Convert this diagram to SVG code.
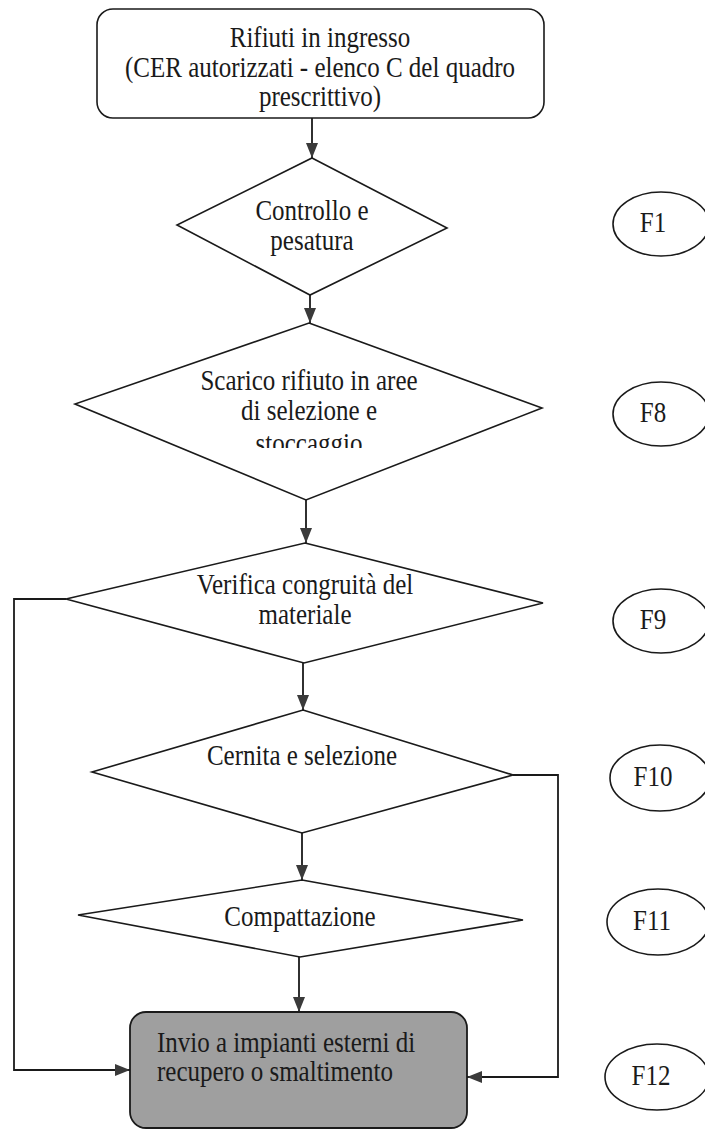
<svg xmlns="http://www.w3.org/2000/svg" width="705" height="1133" viewBox="0 0 705 1133">
  <style>
    .shape { fill: #ffffff; stroke: #1a1a1a; stroke-width: 1.6; }
    .grey { fill: #9f9f9f; stroke: #1a1a1a; stroke-width: 1.8; }
    .t { font-family: "Liberation Serif", "Times New Roman", serif; font-size: 25px; fill: #1a1a1a; text-anchor: middle; }
    .tl { font-family: "Liberation Serif", "Times New Roman", serif; font-size: 25px; fill: #1a1a1a; text-anchor: start; }
    .conn { fill: none; stroke: #1a1a1a; stroke-width: 1.8; }
  </style>
  <defs>
    <marker id="arrow" markerUnits="userSpaceOnUse" markerWidth="16" markerHeight="14" refX="15" refY="7" orient="auto">
      <path d="M0,1 L15,7 L0,13 z" fill="#3a3a3a"/>
    </marker>
    <clipPath id="clipScarico">
      <rect x="0" y="0" width="705" height="448"/>
    </clipPath>
  </defs>
  <rect width="705" height="1133" fill="#ffffff"/>

  <g id="connectors">
    <line class="conn" x1="312" y1="118" x2="312" y2="158" marker-end="url(#arrow)"/>
    <line class="conn" x1="310" y1="295" x2="310" y2="323" marker-end="url(#arrow)"/>
    <line class="conn" x1="306" y1="500" x2="306" y2="543" marker-end="url(#arrow)"/>
    <line class="conn" x1="303" y1="663" x2="303" y2="710" marker-end="url(#arrow)"/>
    <line class="conn" x1="302" y1="833" x2="302" y2="880" marker-end="url(#arrow)"/>
    <line class="conn" x1="299" y1="957" x2="299" y2="1012" marker-end="url(#arrow)"/>
    <polyline class="conn" points="66,599 14,599 14,1070 130,1070" marker-end="url(#arrow)"/>
    <polyline class="conn" points="513,775 558,775 558,1077 467,1077" marker-end="url(#arrow)"/>
  </g>

  <g id="node-ingresso">
    <rect class="shape" x="97" y="9" width="447" height="109" rx="16"/>
    <text class="t" transform="translate(320,47) scale(1,1.15)">Rifiuti in ingresso</text>
    <text class="t" transform="translate(320,77) scale(1,1.15)">(CER autorizzati - elenco C del quadro</text>
    <text class="t" transform="translate(320,106) scale(1,1.15)">prescrittivo)</text>
  </g>

  <g id="node-controllo">
    <polygon class="shape" points="312,158 447,228 310,295 177,225"/>
    <text class="t" transform="translate(312,220) scale(1,1.15)">Controllo e</text>
    <text class="t" transform="translate(312,250) scale(1,1.15)">pesatura</text>
  </g>

  <g id="node-scarico">
    <polygon class="shape" points="309,323 542,408 306,500 75,404"/>
    <text class="t" transform="translate(309,390) scale(1,1.15)">Scarico rifiuto in aree</text>
    <text class="t" transform="translate(309,420) scale(1,1.15)">di selezione e</text>
    <g clip-path="url(#clipScarico)">
      <text class="t" transform="translate(309,453) scale(1,1.15)">stoccaggio</text>
    </g>
  </g>

  <g id="node-verifica">
    <polygon class="shape" points="305,543 543,603 304,663 66,599"/>
    <text class="t" transform="translate(305,594) scale(1,1.15)">Verifica congruità del</text>
    <text class="t" transform="translate(305,624) scale(1,1.15)">materiale</text>
  </g>

  <g id="node-cernita">
    <polygon class="shape" points="303,710 513,775 302,833 92,772"/>
    <text class="t" transform="translate(302,765) scale(1,1.15)">Cernita e selezione</text>
  </g>

  <g id="node-compattazione">
    <polygon class="shape" points="302,880 523,920 300,957 78,915"/>
    <text class="t" transform="translate(300,926) scale(1,1.15)">Compattazione</text>
  </g>

  <g id="node-invio">
    <rect class="grey" x="130" y="1012" width="337" height="116" rx="16"/>
    <text class="tl" transform="translate(157,1052) scale(1,1.15)">Invio a impianti esterni di</text>
    <text class="tl" transform="translate(157,1081) scale(1,1.15)">recupero o smaltimento</text>
  </g>

  <g id="node-F1">
    <ellipse class="shape" cx="661" cy="224" rx="48" ry="32"/>
    <text class="t" transform="translate(653,232) scale(1,1.15)">F1</text>
  </g>
  <g id="node-F8">
    <ellipse class="shape" cx="661" cy="414" rx="48" ry="32"/>
    <text class="t" transform="translate(653,422) scale(1,1.15)">F8</text>
  </g>
  <g id="node-F9">
    <ellipse class="shape" cx="661" cy="621" rx="48" ry="32"/>
    <text class="t" transform="translate(653,629) scale(1,1.15)">F9</text>
  </g>
  <g id="node-F10">
    <ellipse class="shape" cx="660" cy="778" rx="50" ry="33"/>
    <text class="t" transform="translate(653,786) scale(1,1.15)">F10</text>
  </g>
  <g id="node-F11">
    <ellipse class="shape" cx="658" cy="922" rx="51" ry="33"/>
    <text class="t" transform="translate(652,930) scale(1,1.15)">F11</text>
  </g>
  <g id="node-F12">
    <ellipse class="shape" cx="657" cy="1077" rx="52" ry="33"/>
    <text class="t" transform="translate(651,1085) scale(1,1.15)">F12</text>
  </g>
</svg>
